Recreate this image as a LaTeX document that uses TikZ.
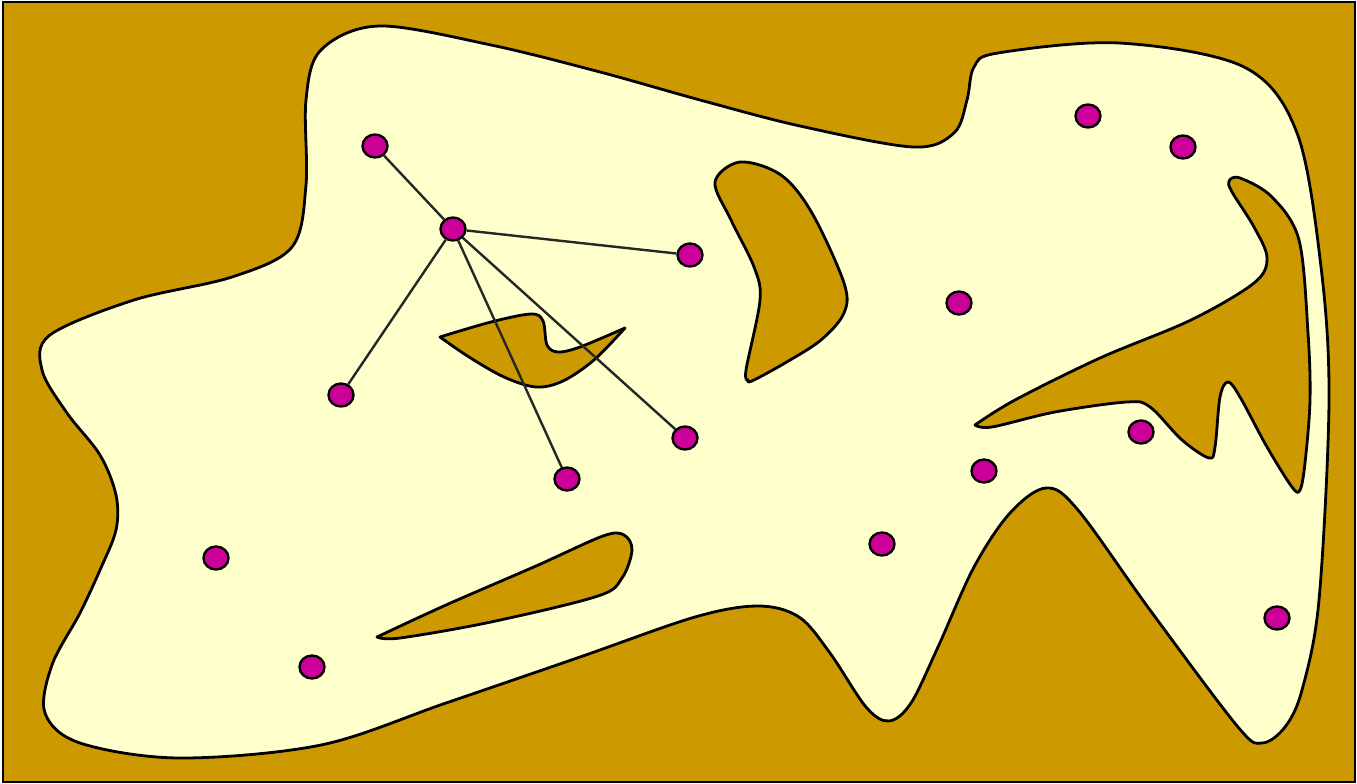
\documentclass[tikz,border=0pt]{standalone}
\usetikzlibrary{shapes.geometric}
\definecolor{gold}{HTML}{CC9900}
\definecolor{yel}{HTML}{FFFFCC}
\definecolor{mag}{HTML}{CC0099}
\tikzset{
  region/.style={draw=black, line width=2.8pt, fill=yel, line join=round},
  hole/.style={draw=black, line width=2.8pt, fill=gold, line join=round},
  dot/.style={ellipse, draw=black, line width=2.4pt, fill=mag, minimum width=25pt, minimum height=23pt, inner sep=0pt},
  link/.style={draw=black!85, line width=2.4pt},
}
\begin{document}
\begin{tikzpicture}[x=1pt,y=-1pt]
\useasboundingbox (0,0) rectangle (1357,784);
\draw[fill=gold, line width=2.5pt] (3,2) rectangle (1355,782);
% main region
\draw[region] plot[smooth cycle, tension=0.55] coordinates {
(306,185) (306,100) (321,50) (379,26) (491,45) (600,72) (700,100) (800,126) (913,147) (954,133) (967,100) (974,67) (998,53)
(1119,43) (1244,67) (1297,133) (1321,267) (1329,400) (1319,600) (1302,690) (1285,727) (1262,743) (1238,727)
(1150,610) (1078,510) (1046,488) (1010,513) (974,567) (938,647) (911,703) (889,721) (866,707)
(830,653) (799,617) (758,606) (695,617) (580,657) (446,703) (321,745) (179,758) (80,743) (45,713) (52,665)
(80,613) (100,570) (116,530) (116,495) (100,455) (67,413) (42,370) (50,335) (134,300) (232,277) (292,247)};
% holes
\draw[hole] plot[smooth, tension=0.55] coordinates {(440,337) (491,322) (531,314) (543,321) (547,345) (558,352) (580,347) (625,328)}
  -- plot[smooth, tension=0.55] coordinates {(625,328) (594,360) (563,381) (536,387) (504,377) (469,357) (440,337)} -- cycle;
\draw[hole] plot[smooth, tension=0.55] coordinates {(748,380) (746,370) (760,300) (754,267) (731,220) (715,182) (740,162) (781,175) (812,213) (844,283) (844,313) (821,340) (785,363) (752,381) (748,380)} -- cycle;
\draw[hole] plot[smooth, tension=0.55] coordinates {(377,637) (446,605) (536,566) (603,536) (624,535) (632,550) (622,578) (598,596) (491,622) (400,638) (377,637)} -- cycle;
\draw[hole] plot[smooth, tension=0.55] coordinates {(975,425) (1015,400) (1100,358) (1191,320) (1254,283) (1267,258) (1254,227) (1232,192) (1229,181) (1240,178) (1272,197) (1299,240) (1308,333) (1310,400) (1305,463) (1300,490) (1292,487) (1267,447) (1240,397) (1228,382) (1220,397) (1215,447) (1209,458) (1182,440) (1150,407) (1127,402) (1055,412) (992,427) (975,425)} -- cycle;
% nodes
\node[dot] (n1) at (375,146) {};
\node[dot] (hub) at (453,229) {};
\node[dot] (n3) at (690,255) {};
\node[dot] (n4) at (341,395) {};
\node[dot] (n5) at (567,479) {};
\node[dot] (n6) at (685,438) {};
\node[dot] (n7) at (216,558) {};
\node[dot] (n8) at (312,667) {};
\node[dot] (n9) at (1088,116) {};
\node[dot] (n10) at (1183,147) {};
\node[dot] (n11) at (959,303) {};
\node[dot] (n12) at (1141,432) {};
\node[dot] (n13) at (984,471) {};
\node[dot] (n14) at (882,544) {};
\node[dot] (n15) at (1277,618) {};
\foreach \t in {n1,n3,n4,n5,n6} \draw[link] (hub) -- (\t);
\end{tikzpicture}
\end{document}
